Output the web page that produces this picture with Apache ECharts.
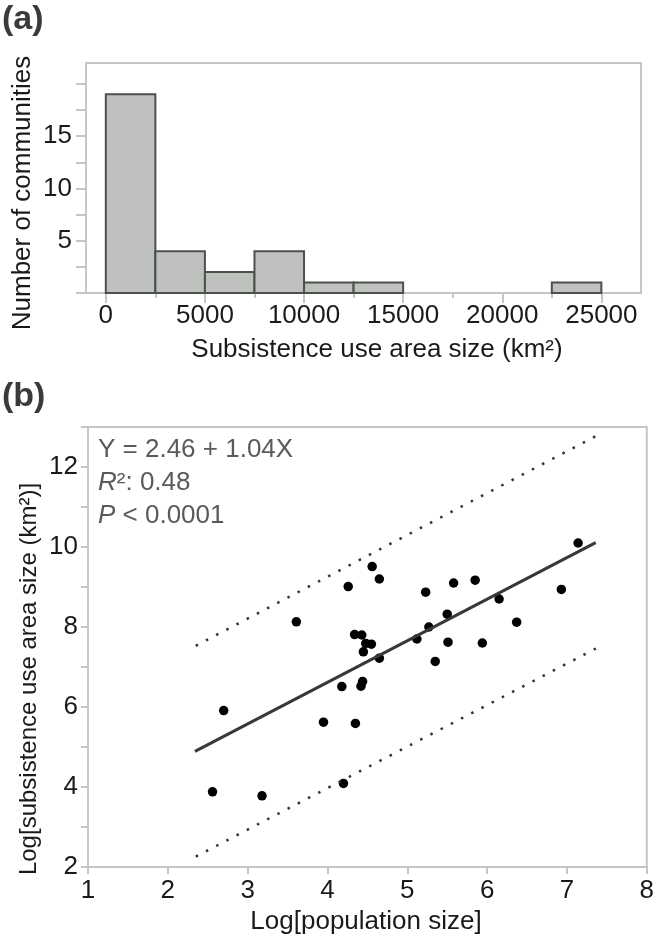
<!DOCTYPE html>
<html><head><meta charset="utf-8">
<script src="https://cdn.jsdelivr.net/npm/echarts@6/dist/echarts.min.js"></script>
<style>html,body{margin:0;padding:0;background:#fff}#c{width:657px;height:944px}</style>
</head><body><div id="c"></div>
<script>
// ---- Panel (a): histogram ----
const binStarts = [0, 2500, 5000, 7500, 10000, 12500, 15000, 17500, 20000, 22500];
const binWidth = 2500;
const binCounts = [19, 4, 2, 4, 1, 1, 0, 0, 0, 1];
const histXTicks = [0, 5000, 10000, 15000, 20000, 25000];
const histXMinorTicks = [2500, 7500, 12500, 17500, 22500];
const histYTicks = [0, 2.5, 5, 7.5, 10, 12.5, 15, 17.5, 20];
const histYLabels = [5, 10, 15];

// ---- Panel (b): scatter ----
const logPop = [7.14, 4.56, 4.65, 4.26, 5.58, 5.85, 5.23, 6.93, 6.15, 5.50, 3.61, 6.37, 5.27, 4.34, 4.43, 4.48,
                4.55, 5.12, 5.51, 5.94, 4.45, 4.65, 5.35, 4.44, 4.42, 4.18, 2.70, 3.95, 4.35, 4.20, 2.56, 3.18];
const logArea = [10.10, 9.51, 9.20, 9.01, 9.10, 9.17, 8.87, 8.94, 8.70, 8.32, 8.13, 8.12, 8.00, 7.81, 7.80, 7.59,
                 7.57, 7.70, 7.62, 7.60, 7.38, 7.22, 7.14, 6.64, 6.52, 6.51, 5.91, 5.62, 5.59, 4.09, 3.88, 3.78];
const fitLine = [[2.34, 4.89], [7.36, 10.11]];
const upperBand = [[2.35, 7.53], [7.37, 12.78]];
const lowerBand = [[2.35, 2.26], [7.37, 7.47]];
const statLines = ['Y = 2.46 + 1.04X', '{i|R}²: 0.48', '{i|P} < 0.0001'];

const FONT = 'Liberation Sans, Arial, Helvetica, sans-serif';
const FRAME = '#c6c6c6';
const TXT = '#1a1a1a';

const chart = echarts.init(document.getElementById('c'), null, {renderer: 'canvas'});

const histData = binStarts.map((s, i) => [s, s + binWidth, binCounts[i]]);
const scatterData = logPop.map((x, i) => [x, logArea[i]]);

const statGraphics = statLines.map((t, i) => ({
  type: 'text', left: 98, top: 437 + i * 33, z: 10,
  style: {
    text: t, font: '26px ' + FONT, fill: '#5a5a5a',
    rich: {i: {fontStyle: 'italic', fontSize: 26, fontFamily: FONT, fill: '#5a5a5a', color: '#5a5a5a'}}
  }
}));

const option = {
  animation: false,
  backgroundColor: '#fff',
  textStyle: {fontFamily: FONT},
  grid: [
    {left: 86, top: 63, width: 555, height: 230, show: true, borderColor: FRAME, borderWidth: 2, backgroundColor: 'transparent'},
    {left: 88, top: 427, width: 560, height: 440, show: true, borderColor: FRAME, borderWidth: 2, backgroundColor: 'transparent'}
  ],
  xAxis: [
    {gridIndex: 0, type: 'value', position: 'bottom', min: -1000, max: 27000,
     axisLine: {show: true, onZero: false, lineStyle: {color: FRAME, width: 2}},
     axisTick: {show: true, customValues: histXTicks, length: 10, lineStyle: {color: FRAME, width: 2}},
     axisLabel: {customValues: histXTicks, fontSize: 26, margin: 10, color: TXT, fontFamily: FONT,
                 formatter: v => String(v)},
     splitLine: {show: false}},
    {gridIndex: 0, type: 'value', position: 'bottom', min: -1000, max: 27000,
     axisLine: {show: false, onZero: false},
     axisTick: {show: true, customValues: histXMinorTicks, length: 5, lineStyle: {color: FRAME, width: 2}},
     axisLabel: {show: false}, splitLine: {show: false}},
    {gridIndex: 1, type: 'value', position: 'bottom', min: 1, max: 8, interval: 1,
     axisLine: {show: true, onZero: false, lineStyle: {color: FRAME, width: 2}},
     axisTick: {show: true, length: 7, lineStyle: {color: FRAME, width: 2}},
     axisLabel: {fontSize: 26, margin: 11, color: TXT, fontFamily: FONT},
     splitLine: {show: false}}
  ],
  yAxis: [
    {gridIndex: 0, type: 'value', position: 'left', min: 0, max: 22,
     axisLine: {show: true, onZero: false, lineStyle: {color: FRAME, width: 2}},
     axisTick: {show: true, customValues: histYTicks, length: 10, lineStyle: {color: FRAME, width: 2}},
     axisLabel: {customValues: histYLabels, fontSize: 26, margin: 14, color: TXT, fontFamily: FONT},
     splitLine: {show: false}},
    {gridIndex: 1, type: 'value', position: 'left', min: 2, max: 13, interval: 1,
     axisLine: {show: true, onZero: false, lineStyle: {color: FRAME, width: 2}},
     axisTick: {show: true, length: 7, lineStyle: {color: FRAME, width: 2}},
     axisLabel: {fontSize: 26, margin: 10, color: TXT, fontFamily: FONT,
                 formatter: v => (v % 2 === 0 && v <= 12) ? String(v) : ''},
     splitLine: {show: false}}
  ],
  series: [
    {type: 'custom', xAxisIndex: 0, yAxisIndex: 0, data: histData,
     encode: {x: [0, 1], y: 2},
     renderItem: (params, api) => {
       const c = api.value(2);
       if (!c) return null;
       const p0 = api.coord([api.value(0), 0]);
       const p1 = api.coord([api.value(1), c]);
       return {type: 'rect',
               shape: {x: p0[0], y: p1[1], width: p1[0] - p0[0], height: p0[1] - p1[1]},
               style: {fill: '#bfc1bf', stroke: '#4c514c', lineWidth: 2}};
     }},
    {type: 'line', xAxisIndex: 2, yAxisIndex: 1, data: upperBand, symbol: 'none',
     lineStyle: {color: '#333', width: 2.5, type: [2.5, 9]}},
    {type: 'line', xAxisIndex: 2, yAxisIndex: 1, data: lowerBand, symbol: 'none',
     lineStyle: {color: '#333', width: 2.5, type: [2.5, 9]}},
    {type: 'line', xAxisIndex: 2, yAxisIndex: 1, data: fitLine, symbol: 'none',
     lineStyle: {color: '#383838', width: 3}},
    {type: 'scatter', xAxisIndex: 2, yAxisIndex: 1, data: scatterData, symbolSize: 9.5,
     itemStyle: {color: '#000', opacity: 1}}
  ],
  graphic: [
    {type: 'text', left: 2, top: 3, style: {text: '(a)', font: 'bold 34px ' + FONT, fill: '#3a3a3a'}},
    {type: 'text', left: 2, top: 380, style: {text: '(b)', font: 'bold 34px ' + FONT, fill: '#3a3a3a'}},
    {type: 'text', x: 23, y: 193, rotation: Math.PI / 2,
     style: {text: 'Number of communities', font: '26px ' + FONT, fill: TXT, align: 'center', verticalAlign: 'middle'}},
    {type: 'text', x: 377, y: 350,
     style: {text: 'Subsistence use area size (km²)', font: '26px ' + FONT, fill: TXT, align: 'center', verticalAlign: 'middle'}},
    {type: 'text', x: 29, y: 679, rotation: Math.PI / 2,
     style: {text: 'Log[subsistence use area size (km²)]', font: '24px ' + FONT, fill: TXT, align: 'center', verticalAlign: 'middle'}},
    {type: 'text', x: 366, y: 922,
     style: {text: 'Log[population size]', font: '26px ' + FONT, fill: TXT, align: 'center', verticalAlign: 'middle'}}
  ].concat(statGraphics)
};
chart.setOption(option);
</script>
</body></html>
